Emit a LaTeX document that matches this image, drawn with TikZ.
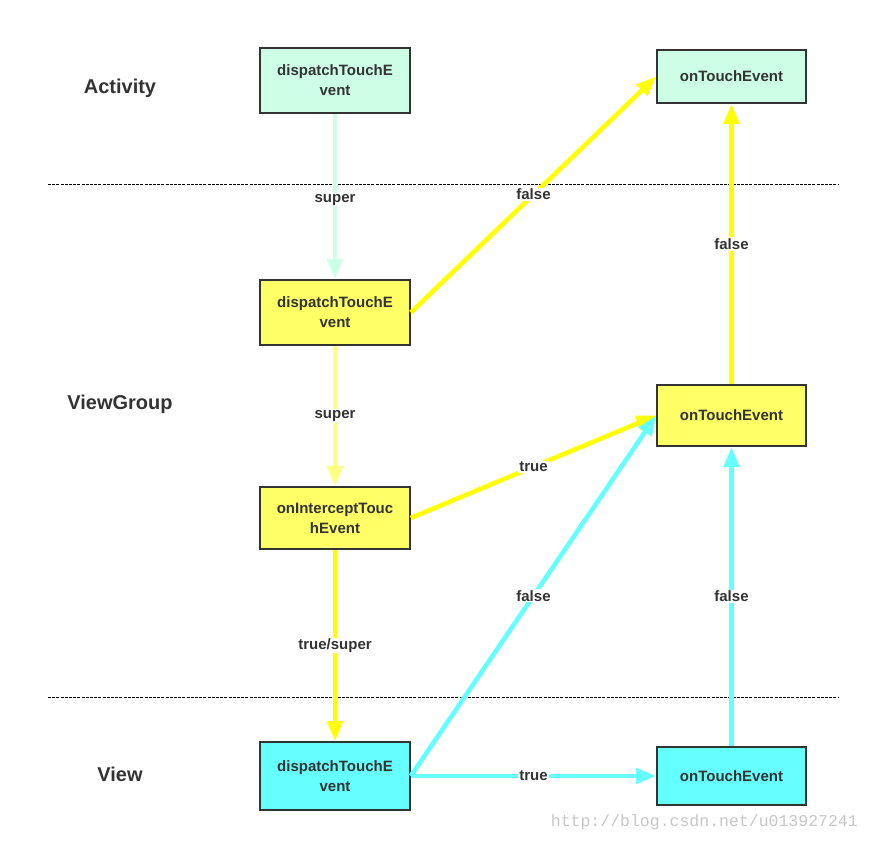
\documentclass[tikz,border=0pt]{standalone}
\usepackage{fontspec}
\setmainfont{Liberation Sans}
\newfontfamily\wmfont{Liberation Mono}
\usetikzlibrary{arrows.meta}
\definecolor{mint}{HTML}{CCFFE6}
\definecolor{yfill}{HTML}{FFFF66}
\definecolor{cfill}{HTML}{66FFFF}
\definecolor{yline}{HTML}{FFFF00}
\definecolor{yline2}{HTML}{FFFF80}
\definecolor{cline}{HTML}{66FFFF}
\definecolor{txt}{HTML}{333333}
\tikzset{
  px/.style={x=1pt,y=-1pt},
  box/.style={draw=txt, line width=1.6pt, minimum width=150pt, text width=140pt, align=center,
    font=\bfseries\fontsize{15}{20}\selectfont, text=txt, inner sep=0pt},
  sect/.style={font=\bfseries\fontsize{20}{24}\selectfont, text=txt},
  lbl/.style={fill=white, font=\bfseries\fontsize{15}{18}\selectfont, text=txt, inner sep=1pt},
  conn/.style={line width=4.6pt, -{Triangle[length=20pt,width=15pt]}},
  sep/.style={draw=black, line width=1pt, dash pattern=on 3pt off 1.2pt},
}
\begin{document}
\begin{tikzpicture}[px]
\useasboundingbox (0,0) rectangle (870,842);
% section labels
\node[sect] (sa) at (120,88) {Activity};
\node[sect] (sg) at (120,404) {ViewGroup};
\node[sect] (sv) at (120,774) {View};
% separators
\coordinate (d1a) at (48,185); \coordinate (d1b) at (838,185);
\coordinate (d2a) at (48,697); \coordinate (d2b) at (838,697);
\draw[sep] (d1a) -- (d1b);
\draw[sep] (d2a) -- (d2b);
% boxes
\node[box, fill=mint, minimum height=65pt] (ad) at (335,80.5) {dispatchTouchE\\vent};
\node[box, fill=mint, minimum height=53pt, minimum width=149pt] (ao) at (731.5,76.5) {onTouchEvent};
\node[box, fill=yfill, minimum height=65pt] (gd) at (335,312.5) {dispatchTouchE\\vent};
\node[box, fill=yfill, minimum height=61pt, minimum width=149pt] (go) at (731.5,415.5) {onTouchEvent};
\node[box, fill=yfill, minimum height=62pt] (gi) at (335,518) {onInterceptTouc\\hEvent};
\node[box, fill=cfill, minimum height=68pt] (vd) at (335,776) {dispatchTouchE\\vent};
\node[box, fill=cfill, minimum height=58pt, minimum width=149pt] (vo) at (731.5,776) {onTouchEvent};
% connectors
\draw[conn, mint] (ad.south) -- node[lbl, pos=0.52] {super} (gd.north);
\draw[conn, yline] (gd.east) -- node[lbl, pos=0.5] {false} (ao.west);
\draw[conn, yline2] (gd.south) -- node[lbl, pos=0.5] {super} (gi.north);
\draw[conn, yline] (gi.south) -- node[lbl, pos=0.5] {true/super} (vd.north);
\draw[conn, yline] (gi.east) -- node[lbl, pos=0.5] {true} (go.west);
\draw[conn, yline] (go.north) -- node[lbl, pos=0.5] {false} (ao.south);
\draw[conn, cline] (vd.east) -- node[lbl, pos=0.5] {false} (go.west);
\draw[conn, cline] (vd.east) -- node[lbl, pos=0.5] {true} (vo.west);
\draw[conn, cline] (vo.north) -- node[lbl, pos=0.5] {false} (go.south);
% watermark
\node[font=\wmfont\fontsize{16.5}{18}\selectfont, text=black!22, anchor=east, inner sep=0pt] (wm) at (858,822) {http://blog.csdn.net/u013927241};
\end{tikzpicture}
\end{document}
